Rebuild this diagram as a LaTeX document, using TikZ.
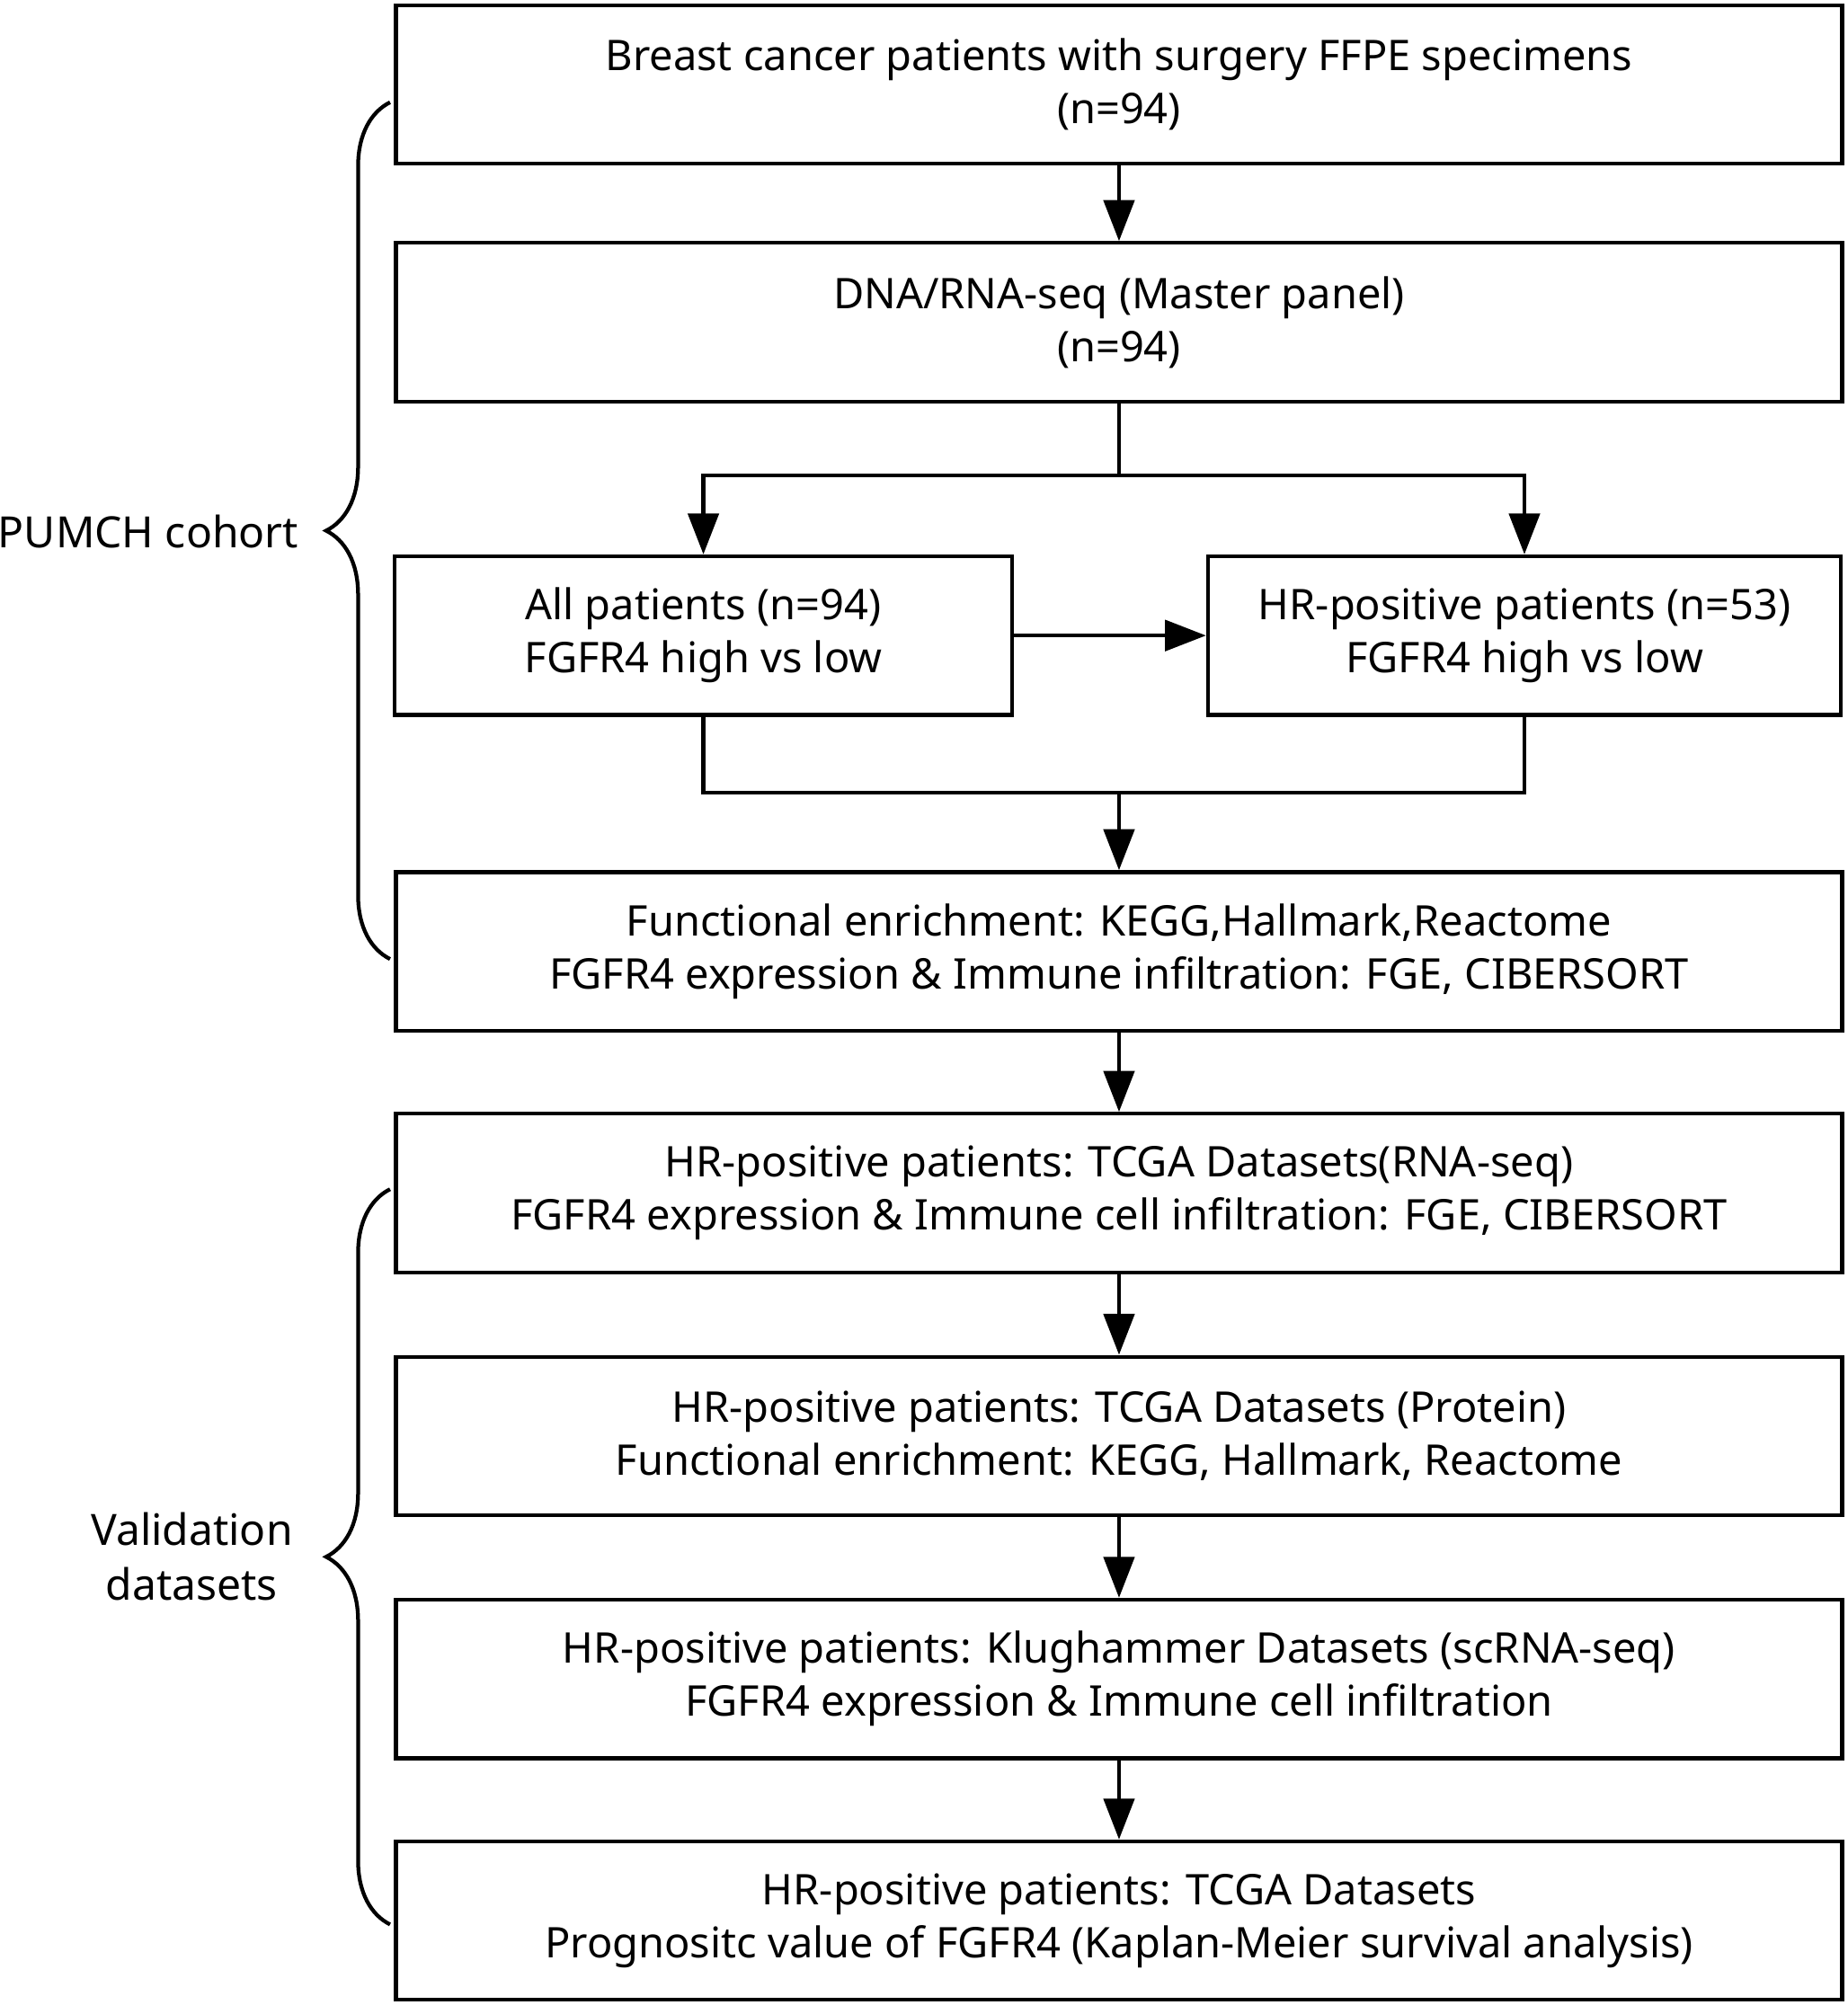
\documentclass[tikz,border=0pt]{standalone}
\usepackage{fontspec}
\setmainfont{Noto Sans}
\usetikzlibrary{arrows.meta,positioning,decorations.pathreplacing}
\tikzset{stepbox/.style={draw,rectangle,line width=0.85pt,minimum height=12.4mm,align=center,inner sep=0pt,font=\fontsize{9.4}{11.8}\selectfont},
    flowarrow/.style={line width=0.85pt,-{Triangle[length=3.2mm,width=2.4mm]}},
    flowline/.style={line width=0.85pt},
    accolade/.style={decorate,decoration={brace,amplitude=5mm},line width=0.85pt},
    sidetext/.style={align=center,font=\fontsize{9.6}{12.2}\selectfont}
}
\begin{document}
\begin{tikzpicture}[x=0.1mm,y=-0.1mm]
\useasboundingbox (0,0) rectangle (1445,1568);

\node (s 1) [stepbox,minimum width=113.1mm] at (875,66) {Breast cancer patients with surgery FFPE specimens\\(n=94)};
\node (s 2) [stepbox,minimum width=113.1mm] at (875,252) {DNA/RNA-seq (Master panel)\\(n=94)};
\node (all) [stepbox,minimum width=48.3mm] at (550,497) {All patients (n=94)\\FGFR4 high vs low};
\node (hr) [stepbox,minimum width=49.5mm] at (1192,497) {HR-positive patients (n=53)\\FGFR4 high vs low};
\node (s 3) [stepbox,minimum width=113.1mm] at (875,744) {Functional enrichment: KEGG,Hallmark,Reactome\\FGFR4 expression \& Immune infiltration: FGE, CIBERSORT};
\node (v 1) [stepbox,minimum width=113.1mm] at (875,933) {HR-positive patients: TCGA Datasets(RNA-seq)\\FGFR4 expression \& Immune cell infiltration: FGE, CIBERSORT};
\node (v 2) [stepbox,minimum width=113.1mm] at (875,1123) {HR-positive patients: TCGA Datasets (Protein)\\Functional enrichment: KEGG, Hallmark, Reactome};
\node (v 3) [stepbox,minimum width=113.1mm] at (875,1313) {HR-positive patients: Klughammer Datasets (scRNA-seq)\\FGFR4 expression \& Immune cell infiltration};
\node (v 4) [stepbox,minimum width=113.1mm] at (875,1502) {HR-positive patients: TCGA Datasets\\Prognositc value of FGFR4 (Kaplan-Meier survival analysis)};

\coordinate (split) at (875,372);
\coordinate (merge) at (875,620);

\draw [flowarrow] (s 1) -- (s 2);
\draw [flowline] (s 2) -- (split);
\draw [flowarrow] (split) -| (all.north);
\draw [flowarrow] (split) -| (hr.north);
\draw [flowarrow] (all) -- (hr);
\draw [flowline] (all.south) |- (merge);
\draw [flowline] (hr.south) |- (merge);
\draw [flowarrow] (merge) -- (s 3);
\draw [flowarrow] (s 3) -- (v 1);
\draw [flowarrow] (v 1) -- (v 2);
\draw [flowarrow] (v 2) -- (v 3);
\draw [flowarrow] (v 3) -- (v 4);

\draw [accolade] (305,750) -- (305,80) coordinate[midway] (pumch brace);
\draw [accolade] (305,1505) -- (305,930) coordinate[midway] (valid brace);

\node (pumch) [sidetext,anchor=east,inner sep=0pt] at (234,416) {PUMCH cohort};
\node (valid) [sidetext] at (150,1217) {Validation\\datasets};

\end{tikzpicture}
\end{document}
